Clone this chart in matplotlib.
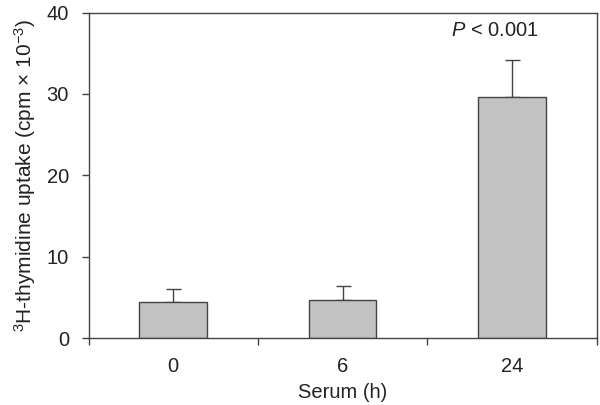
import matplotlib
matplotlib.use("Agg")
import matplotlib.pyplot as plt
import numpy as np

plt.rcParams['font.family'] = ['Liberation Sans', 'DejaVu Sans']
plt.rcParams['mathtext.fontset'] = 'custom'
plt.rcParams['mathtext.rm'] = 'Liberation Sans'
plt.rcParams['mathtext.it'] = 'Liberation Sans:italic'
plt.rcParams['mathtext.default'] = 'regular'

categories = ['0', '6', '24']
values = [4.45, 4.65, 29.6]
errors_up = [1.55, 1.7, 4.55]
yticks = [0, 10, 20, 30, 40]
annotation = '$\\mathit{P}$ < 0.001'

FS = 14.5
TC = '#222222'

fig = plt.figure(figsize=(6, 4.05), dpi=100)
ax = fig.add_axes([0.1475, 0.1654, 0.847, 0.8036])

x = np.arange(len(categories))
edge = '#444444'
ax.bar(x, values, width=0.4, color='#c2c2c2', edgecolor=edge, linewidth=1.0, zorder=2)
ax.errorbar(x, values, yerr=[np.zeros(len(values)), errors_up], fmt='none',
            ecolor=edge, elinewidth=1.0, capsize=5.4, capthick=1.0, zorder=1)

ax.set_xlim(-0.5, len(categories) - 0.5)
ax.set_ylim(0, 40)
ax.set_yticks(yticks)
ax.set_xticks(x)
ax.set_xticklabels(categories)
ax.set_xticks(np.arange(len(categories) + 1) - 0.5, minor=True)
ax.tick_params(axis='x', which='major', length=0, pad=14, labelsize=FS, colors=TC)
ax.tick_params(axis='x', which='minor', length=5, width=1.0, color=edge, direction='out')
ax.tick_params(axis='y', length=5, width=1.0, color=edge, direction='out', pad=9,
               labelsize=FS, labelcolor=TC)

for s in ax.spines.values():
    s.set_color(edge)
    s.set_linewidth(1.0)

ax.set_xlabel('Serum (h)', fontsize=FS, color=TC, labelpad=5)
ax.set_ylabel('$^{3}$H-thymidine uptake (cpm × 10$^{-3}$)', fontsize=15, color=TC, labelpad=6)

ax.text(x[2] - 0.1, 36.6, annotation, ha='center', va='bottom', fontsize=FS, color=TC)

fig.savefig('out.png', dpi=100)
